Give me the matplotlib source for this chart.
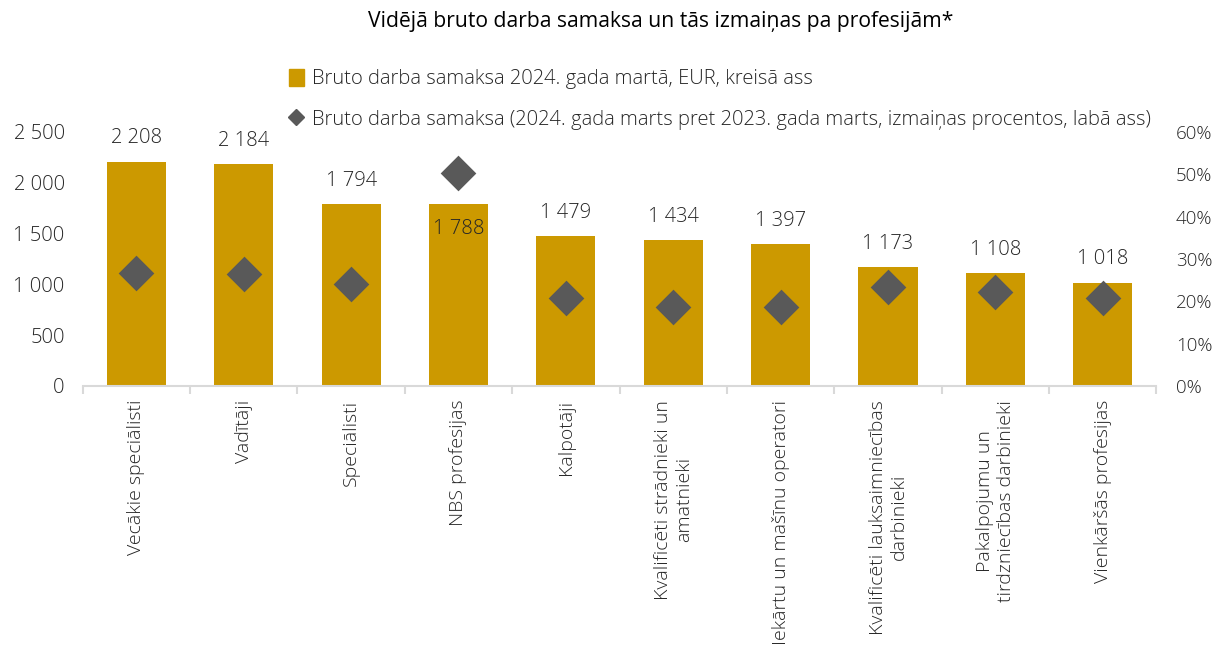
import matplotlib
matplotlib.use("Agg")
import matplotlib.pyplot as plt
from matplotlib.ticker import FuncFormatter
from matplotlib.lines import Line2D
from matplotlib.patches import Patch

categories = [
    "Vecākie speciālisti",
    "Vadītāji",
    "Speciālisti",
    "NBS profesijas",
    "Kalpotāji",
    "Kvalificēti strādnieki un\namatnieki",
    "Iekārtu un mašīnu operatori",
    "Kvalificēti lauksaimniecības\ndarbinieki",
    "Pakalpojumu un\ntirdzniecības darbinieki",
    "Vienkāršās profesijas",
]
wages = [2208, 2184, 1794, 1788, 1479, 1434, 1397, 1173, 1108, 1018]
change_pct = [26.7, 26.4, 24.2, 50.2, 20.9, 18.6, 18.6, 23.4, 22.3, 20.7]

bar_label = "Bruto darba samaksa 2024. gada martā, EUR, kreisā ass"
dot_label = "Bruto darba samaksa (2024. gada marts pret 2023. gada marts, izmaiņas procentos, labā ass)"
title = "Vidējā bruto darba samaksa un tās izmaiņas pa profesijām*"

plt.rcParams['font.family'] = ['Open Sans', 'DejaVu Sans']
plt.rcParams['font.weight'] = 'light'
BAR = "#CC9900"
DOT = "#595959"
TXT = "#262626"

fig = plt.figure(figsize=(12.16, 6.46), dpi=100)
ax = fig.add_axes([0.068, 0.4025, 0.883, 0.3932])
ax2 = ax.twinx()

x = list(range(len(categories)))
ax.bar(x, wages, width=0.55, color=BAR, zorder=2)
ax.set_xlim(-0.5, len(categories) - 0.5)
ax.set_ylim(0, 2500)
ax.set_yticks(range(0, 2501, 500))
fmt = FuncFormatter(lambda v, p: f"{int(v):,}".replace(",", " "))
ax.yaxis.set_major_formatter(fmt)

ax2.scatter(x, change_pct, marker="D", s=330, color=DOT, zorder=3, linewidths=0)
ax2.set_ylim(0, 60)
ax2.set_yticks(range(0, 61, 10))
ax2.yaxis.set_major_formatter(FuncFormatter(lambda v, p: f"{int(v)}%"))

# value labels
for i, v in enumerate(wages):
    s = f"{v:,}".replace(",", " ")
    if change_pct[i] * 2500 / 60 > v:
        ax.text(i, v - 140, s, ha="center", va="top", fontsize=14.5, color=TXT, zorder=4)
    else:
        ax.text(i, v + 130, s, ha="center", va="bottom", fontsize=14.5, color=TXT)

for a in (ax, ax2):
    for sp in a.spines.values():
        sp.set_visible(False)
ax.spines["bottom"].set_visible(True)
ax.spines["bottom"].set_color("#D9D9D9")
ax.spines["bottom"].set_linewidth(1.5)

ax.set_xticks([i - 0.5 for i in range(len(categories) + 1)], minor=False)
ax.set_xticklabels([])
ax.tick_params(axis="x", length=6, color="#D9D9D9", width=1.5)
ax.set_xticks(x, minor=True)
ax.set_xticklabels(categories, minor=True, rotation=90, fontsize=14, color=TXT,
                   va="top", ha="center", multialignment="center")
ax.tick_params(axis="x", which="minor", length=0, pad=10)

ax.tick_params(axis="y", length=0, labelsize=14.5, labelcolor=TXT, pad=13)
ax2.tick_params(axis="y", length=0, labelsize=13.5, labelcolor=TXT, pad=14)

fig.text(0.543, 0.966, title, ha="center", va="center", fontsize=15.2,
         color="#000000", fontweight="normal")

handles = [Patch(color=BAR),
           Line2D([], [], marker="D", linestyle="none", color=DOT, markersize=8)]
leg = fig.legend(handles, [bar_label, dot_label], loc="upper left",
                 bbox_to_anchor=(0.238, 0.893), frameon=False, fontsize=14.5,
                 handlelength=0.7, handleheight=0.9, handletextpad=0.4, labelspacing=1.0,
                 labelcolor=TXT, borderpad=0, borderaxespad=0)

fig.savefig("out.png", dpi=100)
